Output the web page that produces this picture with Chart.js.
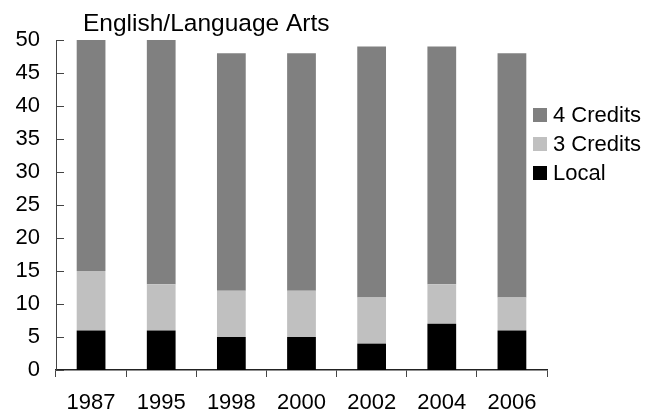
<!DOCTYPE html>
<html>
<head>
<meta charset="utf-8">
<script src="https://cdn.jsdelivr.net/npm/chart.js@4"></script>
<style>
  html, body { margin: 0; padding: 0; background: #fff; }
  #wrap { width: 648px; height: 414px; }
</style>
</head>
<body>
<div id="wrap"><canvas id="chart" width="648" height="414"></canvas></div>
<script>
// Dados do gráfico
const years = ['1987', '1995', '1998', '2000', '2002', '2004', '2006'];
const local = [6, 6, 5, 5, 4, 7, 6];
const credits3 = [9, 7, 7, 7, 7, 6, 5];
const credits4 = [35, 37, 36, 36, 38, 36, 37];
const yTicks = [0, 5, 10, 15, 20, 25, 30, 35, 40, 45, 50];

const FONT = '"Liberation Sans", Arial, sans-serif';

// Título, marcas internas do eixo Y e legenda
const decorations = {
    id: 'decorations',
    afterDraw(chart) {
        const ctx = chart.ctx;
        const y = chart.scales.y;
        ctx.save();

        // marcas do eixo Y (para dentro)
        ctx.strokeStyle = '#444';
        ctx.lineWidth = 1;
        y.ticks.forEach(t => {
            const py = Math.round(y.getPixelForValue(t.value)) + 0.5;
            ctx.beginPath();
            ctx.moveTo(y.right, py);
            ctx.lineTo(y.right + 8, py);
            ctx.stroke();
        });

        // título
        ctx.fillStyle = '#000';
        ctx.font = '24.5px ' + FONT;
        ctx.textBaseline = 'alphabetic';
        ctx.fillText('English/Language Arts', 83, 31);

        // legenda (ordem inversa da pilha)
        ctx.font = '22px ' + FONT;
        ctx.textBaseline = 'middle';
        const rows = [115, 144, 173];
        const sets = chart.data.datasets.slice().reverse();
        sets.forEach((ds, i) => {
            ctx.fillStyle = ds.backgroundColor;
            ctx.fillRect(533, rows[i] - 7, 14, 14);
            ctx.fillStyle = '#000';
            ctx.fillText(ds.label, 553, rows[i] + 1);
        });
        ctx.restore();
    }
};

new Chart(document.getElementById('chart'), {
    type: 'bar',
    data: {
        labels: years,
        datasets: [
            { label: 'Local', data: local, backgroundColor: '#000000' },
            { label: '3 Credits', data: credits3, backgroundColor: '#c0c0c0' },
            { label: '4 Credits', data: credits4, backgroundColor: '#808080' }
        ]
    },
    options: {
        responsive: false,
        animation: false,
        devicePixelRatio: 1,
        layout: { padding: { left: 0, right: 101, top: 40, bottom: 0 } },
        datasets: {
            bar: { categoryPercentage: 1, barPercentage: 0.41, borderWidth: 0 }
        },
        plugins: {
            legend: { display: false },
            title: { display: false },
            tooltip: { enabled: false }
        },
        scales: {
            x: {
                stacked: true,
                grid: { display: true, drawOnChartArea: false, drawTicks: true, tickLength: 7, offset: true, color: '#444' },
                border: { display: true, color: '#222', width: 1.5 },
                ticks: { color: '#000', font: { family: FONT, size: 22 }, padding: 13, maxRotation: 0, autoSkip: false },
                afterFit(scale) { scale.height = 44; }
            },
            y: {
                stacked: true,
                min: 0,
                max: 50,
                afterBuildTicks(scale) { scale.ticks = yTicks.map(v => ({ value: v })); },
                grid: { display: false, drawTicks: false },
                border: { display: true, color: '#444', width: 1 },
                ticks: { color: '#000', font: { family: FONT, size: 22 }, padding: 16 },
                afterFit(scale) { scale.width = 56; }
            }
        }
    },
    plugins: [decorations]
});
</script>
</body>
</html>
